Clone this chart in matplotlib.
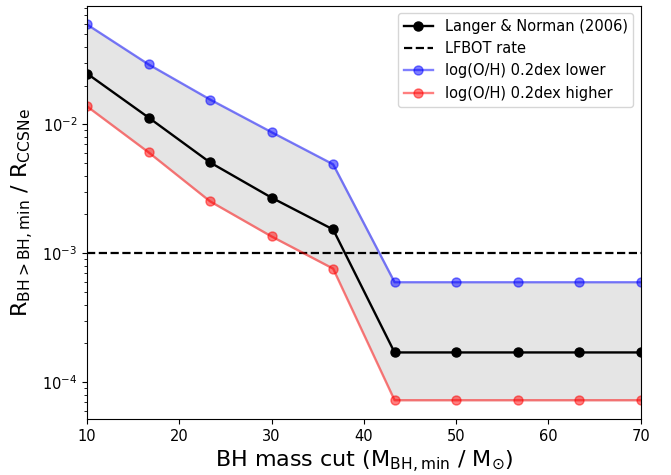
import numpy as np
import matplotlib
matplotlib.use("Agg")
import matplotlib.pyplot as plt

mass_cut = [10.0, 16.67, 23.33, 30.0, 36.67, 43.33, 50.0, 56.67, 63.33, 70.0]
langer = [0.0248, 0.0113, 0.00507, 0.00270, 0.00153, 1.7e-4, 1.7e-4, 1.7e-4, 1.7e-4, 1.7e-4]
lower = [0.0596, 0.0292, 0.0156, 0.0087, 0.0049, 5.96e-4, 5.96e-4, 5.96e-4, 5.96e-4, 5.96e-4]
higher = [0.0138, 0.00607, 0.00253, 0.00135, 7.6e-4, 7.24e-5, 7.24e-5, 7.24e-5, 7.24e-5, 7.24e-5]
lfbot_rate = 1e-3

plt.rcParams['mathtext.fontset'] = 'dejavusans'
fig = plt.figure(figsize=(6.71, 4.75), dpi=100)
ax = fig.add_axes([0.1297, 0.1179, 0.8251, 0.8701])

ax.fill_between(mass_cut, lower, higher, color='#e5e5e5', zorder=0)
ax.plot(mass_cut, langer, color='black', marker='o', lw=1.7, ms=6.5, label='Langer & Norman (2006)')
ax.axhline(lfbot_rate, color='black', ls='--', lw=1.6, label='LFBOT rate')
ax.plot(mass_cut, lower, color='blue', alpha=0.5, marker='o', lw=1.7, ms=6.5, label='log(O/H) 0.2dex lower')
ax.plot(mass_cut, higher, color='red', alpha=0.5, marker='o', lw=1.7, ms=6.5, label='log(O/H) 0.2dex higher')

ax.set_yscale('log')
ax.set_xlim(10, 70)
ax.tick_params(labelsize=10.5)
ax.set_xlabel(r'BH mass cut ($\mathrm{M_{BH,min}}$ / $\mathrm{M_{\odot}}$)', fontsize=16)
ax.set_ylabel(r'$\mathrm{R_{BH>BH,min}}$ / $\mathrm{R_{CCSNe}}$', fontsize=16)
ax.legend(loc='upper right', fontsize=10.5)

fig.savefig('out.png', dpi=100)
